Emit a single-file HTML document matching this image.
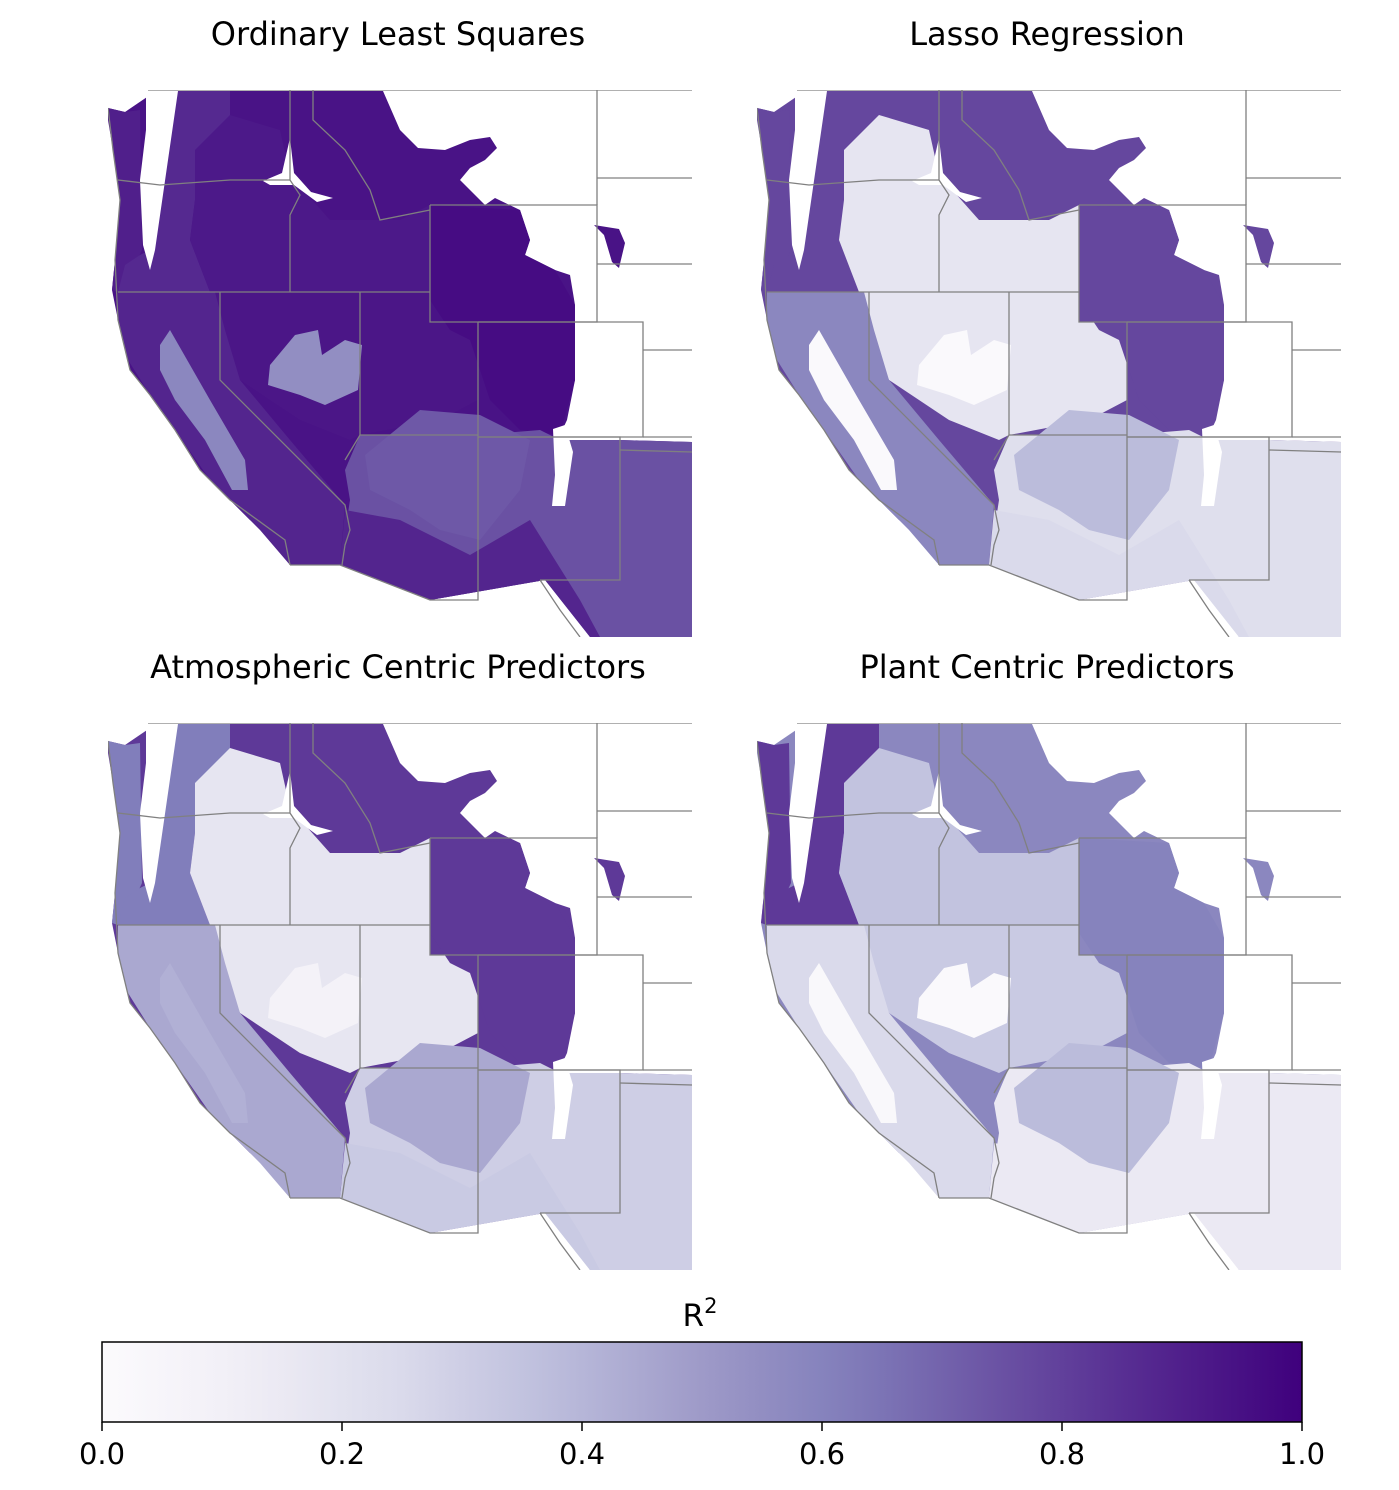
<!DOCTYPE html>
<html><head><meta charset="utf-8">
<style>
body{margin:0;background:#fff;}
svg{display:block;font-family:"DejaVu Sans","Liberation Sans",sans-serif;}
</style></head>
<body>
<svg id="fig" width="1399" height="1490" viewBox="0 0 1399 1490" xmlns="http://www.w3.org/2000/svg">
<defs>
<linearGradient id="cbgrad" x1="0" x2="1" y1="0" y2="0"></linearGradient>
<clipPath id="panelclip"><rect x="108" y="90" width="584" height="547"/></clipPath>
</defs>
<g id="panels"></g>
<g id="colorbar"></g>
</svg>
<script>
// ---- data ----
const models = ["Ordinary Least Squares","Lasso Regression","Atmospheric Centric Predictors","Plant Centric Predictors"];
const regionNames = ["interior","coast","cascades","oregon-plateau","great-basin","basin-core","rockies","sierra-california","central-valley","southwest","mogollon-rim","desert-lowlands"];
const olsValues   = [0.94,0.90,0.87,0.92,0.93,0.55,0.96,0.88,0.58,0.75,0.73,0.88];
const lassoValues = [0.78,0.78,0.78,0.18,0.18,0.02,0.78,0.58,0.02,0.22,0.38,0.25];
const atmValues   = [0.82,0.62,0.62,0.18,0.17,0.08,0.82,0.45,0.42,0.30,0.45,0.32];
const plantValues = [0.58,0.82,0.82,0.35,0.32,0.02,0.60,0.25,0.03,0.15,0.38,0.15];
const cbTicks = [0.0,0.2,0.4,0.6,0.8,1.0];
const cbTickLabels = ["0.0","0.2","0.4","0.6","0.8","1.0"];
// ---- geometry (panel-local, top-left panel frame) ----
const shapes = {
 "interior":[[108,108],[125,112],[150,95],[178,91],[383,91],[400,130],[418,148],[445,150],[470,140],[490,137],[497,148],[485,160],[470,168],[460,180],[485,205],[495,198],[520,210],[530,240],[525,255],[555,270],[570,275],[575,305],[572,330],[575,380],[567,420],[560,435],[580,450],[620,440],[692,442],[692,637],[590,637],[580,620],[545,580],[430,600],[340,565],[290,565],[285,540],[250,520],[230,500],[200,470],[175,430],[160,410],[150,395],[130,370],[118,320],[112,290],[115,260],[120,200],[113,150],[108,120]],
 "coast":[[108,108],[125,112],[140,110],[142,250],[135,265],[118,292],[112,290],[115,260],[120,200],[113,150]],
 "cascades":[[160,110],[178,91],[230,91],[230,120],[200,150],[195,200],[190,240],[210,292],[118,292],[125,265],[140,255],[150,250]],
 "oregon-plateau":[[195,150],[230,115],[280,130],[290,175],[330,220],[400,220],[430,205],[430,292],[210,292],[190,240],[195,200]],
 "great-basin":[[210,292],[430,292],[430,322],[478,322],[478,400],[440,420],[360,435],[350,440],[300,420],[240,380],[220,340]],
 "basin-core":[[268,385],[270,365],[295,335],[318,330],[322,355],[345,340],[362,345],[358,390],[325,405],[300,395]],
 "rockies":[[430,205],[520,210],[530,240],[525,255],[555,270],[575,305],[575,380],[560,435],[520,430],[490,400],[480,370],[470,340],[450,330],[430,300]],
 "sierra-california":[[118,292],[215,292],[225,330],[240,380],[290,440],[345,505],[340,565],[290,565],[260,530],[210,480],[175,430],[150,395],[128,360],[118,320]],
 "central-valley":[[160,345],[170,330],[210,400],[245,460],[248,490],[232,490],[205,440],[175,400],[160,370]],
 "southwest":[[360,435],[478,435],[540,430],[560,440],[620,440],[692,442],[692,637],[590,637],[545,580],[430,600],[340,565],[350,500],[345,470]],
 "mogollon-rim":[[365,455],[420,410],[480,415],[530,440],[520,490],[480,540],[440,530],[410,510],[370,490]],
 "desert-lowlands":[[345,510],[400,520],[470,555],[530,520],[555,560],[580,600],[600,637],[590,637],[545,580],[430,600],[340,565]]
};
const gaps = [
 [[146,91],[178,91],[168,160],[155,250],[150,270],[143,245],[140,180],[146,130]],
 [[263,181],[282,173],[290,138],[294,173],[311,192],[333,198],[317,202],[294,185],[270,185]],
 [[553,429],[565,425],[573,452],[565,506],[552,506],[555,475]]
];
const ndBlob = [[594,225],[619,229],[625,243],[619,268],[612,262],[604,235]];
const borders = [
 [[148,90],[692,90]],
 [[118,180],[160,185],[230,180],[290,180]],
 [[290,90],[290,180],[300,195],[290,215],[290,292]],
 [[118,292],[430,292]],
 [[220,292],[220,380],[345,505],[350,530],[345,545],[342,565]],
 [[360,292],[360,435]],[[345,460],[360,435],[478,435]],
 [[313,90],[313,120],[345,150],[370,190],[380,220],[430,210]],
 [[430,205],[597,205],[597,322],[430,322],[430,205]],
 [[478,322],[643,322],[643,437],[478,437]],
 [[478,322],[478,600],[430,600],[340,565],[290,565]],
 [[478,437],[620,437],[620,580],[540,580]],
 [[597,90],[597,205]],[[597,178],[692,178]],[[597,264],[692,264]],
 [[643,350],[692,350]],[[643,437],[692,437]],[[620,450],[692,452]],
 [[108,108],[113,150],[120,200],[115,260],[118,320],[130,370],[150,395],[175,430],[200,470],[230,500],[285,540],[290,565]],
 [[540,580],[560,610],[580,637]]
];
const cmapStops=[[0,[252,251,253]],[0.125,[239,237,245]],[0.25,[218,218,235]],[0.375,[188,189,220]],[0.5,[158,154,200]],[0.625,[128,125,186]],[0.75,[106,81,163]],[0.875,[84,39,143]],[1,[63,0,125]]];
function cmap(v){v=Math.max(0,Math.min(1,v));for(let i=1;i<cmapStops.length;i++){const [a,ca]=cmapStops[i-1],[b,cb]=cmapStops[i];if(v<=b){const t=(v-a)/(b-a);return 'rgb('+ca.map((c,k)=>Math.round(c+(cb[k]-c)*t)).join(',')+')';}}return 'rgb(63,0,125)';}
const NS='http://www.w3.org/2000/svg';
function mk(tag,attrs,parent){const e=document.createElementNS(NS,tag);for(const k in attrs)e.setAttribute(k,attrs[k]);parent.appendChild(e);return e;}
const pts=a=>a.map(p=>p.join(',')).join(' ');
const allValues=[olsValues,lassoValues,atmValues,plantValues];
const offsets=[[0,0],[649,0],[0,633],[649,633]];
const panelsG=document.getElementById('panels');
models.forEach((m,mi)=>{
 const [dx,dy]=offsets[mi];
 const g=mk('g',{transform:`translate(${dx},${dy})`},panelsG);
 
 
 const t=mk('text',{x:398,y:45,'text-anchor':'middle','font-size':'32',fill:'#000'},g);
 t.textContent=m;
 
 
 const c=mk('g',{'clip-path':'url(#panelclip)'},g);
 regionNames.forEach((r,ri)=>{
  const p=mk('polygon',{points:pts(shapes[r]),fill:cmap(allValues[mi][ri])},c);
  
  
 });
 const nd=mk('polygon',{points:pts(ndBlob),fill:cmap(allValues[mi][0])},c);
 
 
 gaps.forEach(gp=>{const p=mk('polygon',{points:pts(gp),fill:'#fff'},c);
  
  });
 borders.forEach(b=>{const l=mk('polyline',{points:pts(b),fill:'none',stroke:'#808080','stroke-width':'1.3'},c);
  
  });
});
// colorbar
const grad=document.getElementById('cbgrad');
for(let i=0;i<=20;i++){mk('stop',{offset:(i/20),'stop-color':cmap(i/20)},grad);}
const cb=document.getElementById('colorbar');
const x0=102,x1=1302,y0=1342,y1=1422;
const xs=v=>x0+(x1-x0)*v;
const r=mk('rect',{x:x0,y:y0,width:x1-x0,height:y1-y0,fill:'url(#cbgrad)',stroke:'#000','stroke-width':'1.5'},cb);


cbTicks.forEach((v,i)=>{
 const l=mk('line',{x1:xs(v),x2:xs(v),y1:y1,y2:y1+9,stroke:'#000','stroke-width':'1.5'},cb);
 
 
 const t=mk('text',{x:xs(v),y:1464,'text-anchor':'middle','font-size':'29',fill:'#000'},cb);
 t.textContent=cbTickLabels[i];
 
 
});
const ct=mk('text',{x:700,y:1326,'text-anchor':'middle','font-size':'31',fill:'#000'},cb);
ct.innerHTML='R<tspan dy="-13" font-size="21">2</tspan>';


</script>
</body></html>
